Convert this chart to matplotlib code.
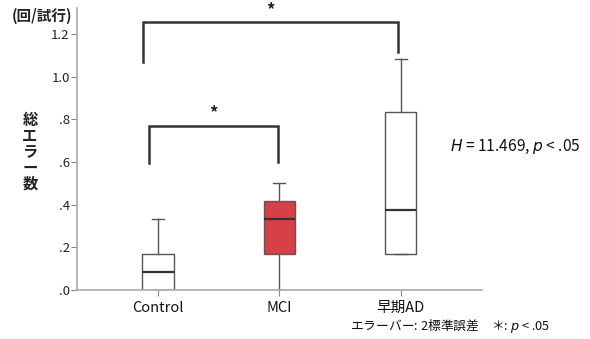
import matplotlib
matplotlib.use("Agg")
import matplotlib.pyplot as plt

plt.rcParams["font.family"] = ["Noto Sans CJK JP", "DejaVu Sans"]

# ── データ──
groups = ["Control", "MCI", "早期AD"]
q1 = [0.0, 0.167, 0.167]
med = [0.083, 0.333, 0.375]
q3 = [0.167, 0.417, 0.833]
whislo = [0.0, 0.0, 0.167]
whishi = [0.333, 0.5, 1.083]
face = ["white", "#d5363d", "white"]

yticks = [0.0, 0.2, 0.4, 0.6, 0.8, 1.0, 1.2]
ytick_labels = [".0", ".2", ".4", ".6", ".8", "1.0", "1.2"]

# 有意差ブラケット: (左x, 右x, 左脚下端, 右脚下端, 上端)
brackets = [
    (0.88, 2.98, 1.07, 1.114, 1.255),
    (0.925, 1.99, 0.593, 0.598, 0.77),
]

fig = plt.figure(figsize=(5.9, 3.39), dpi=100)
ax = fig.add_axes([0.130, 0.145, 0.687, 0.83])

stats = []
for i, g in enumerate(groups):
    stats.append(dict(label=g, q1=q1[i], med=med[i], q3=q3[i],
                      whislo=whislo[i], whishi=whishi[i], fliers=[]))

edge = "#555555"
bp = ax.bxp(stats, positions=[1, 2, 3], widths=0.26, capwidths=0.1,
            patch_artist=True, showfliers=False,
            boxprops=dict(edgecolor=edge, linewidth=1.0),
            whiskerprops=dict(color=edge, linewidth=1.0),
            capprops=dict(color=edge, linewidth=1.0),
            medianprops=dict(color="#333333", linewidth=1.6))
for patch, fc in zip(bp["boxes"], face):
    patch.set_facecolor(fc)
    if fc != "white":
        patch.set_alpha(0.95)
        patch.set_edgecolor("#6a4a55")

# ブラケットと *
for xl, xr, yl, yr, yt in brackets:
    ax.plot([xl, xl, xr, xr], [yl, yt, yt, yr], color="#333333",
            lw=1.8, solid_joinstyle="miter", clip_on=False)
    ax.text((xl + xr) / 2, yt + 0.015, "*", ha="center", va="bottom",
            fontsize=12, fontweight="bold", color="#222222")

ax.set_xlim(0.33, 3.67)
ax.set_ylim(0, 1.32)
ax.set_yticks(yticks)
ax.set_yticklabels(ytick_labels)
ax.set_xticks([1, 2, 3])
ax.set_xticklabels(groups)

for s in ["top", "right"]:
    ax.spines[s].set_visible(False)
for s in ["left", "bottom"]:
    ax.spines[s].set_color("#aaaaaa")
    ax.spines[s].set_linewidth(1.2)
ax.tick_params(axis="y", length=4, color="#888888", labelsize=9.5,
               labelcolor="#222222", pad=1)
ax.tick_params(axis="x", length=4, color="#888888", labelsize=10.5,
               labelcolor="#111111", pad=4)

# 軸ラベル・注記
fig.text(12 / 590, 1 - 16 / 339, "(回/試行)", ha="left", va="center",
         fontsize=10.5, fontweight="bold", color="#222222")
fig.text(30 / 590, 1 - 152 / 339, "総\nエ\nラ\nー\n数", ha="center",
         va="center", fontsize=11, fontweight="bold", linespacing=1.0,
         color="#222222")
fig.text(450 / 590, 1 - 147 / 339, "$H$ = 11.469, $p$ < .05", ha="left",
         va="center", fontsize=11.2, color="#111111")
fig.text(350 / 590, 1 - 326 / 339, "エラーバー: 2標準誤差　＊: $p$ < .05",
         ha="left", va="center", fontsize=9.2, color="#111111")

fig.savefig("out.png", dpi=100)
